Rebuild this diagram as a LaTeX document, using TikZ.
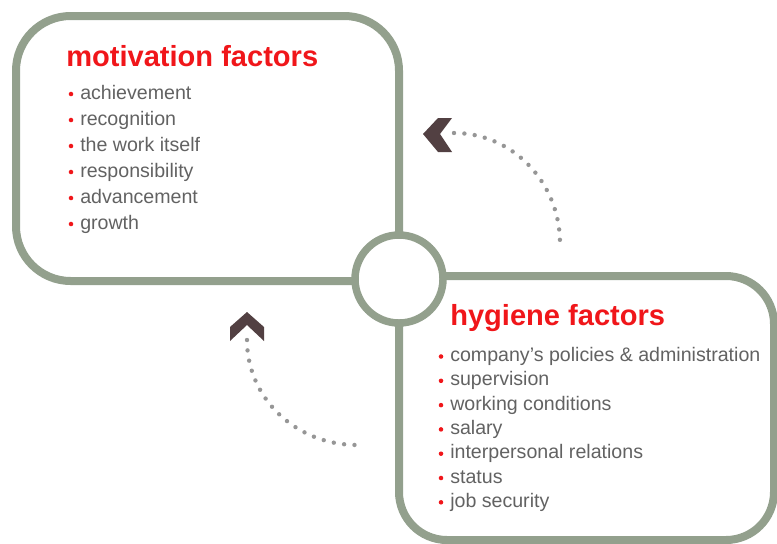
\documentclass[tikz,border=0pt]{standalone}
\usepackage{fontspec}
\setmainfont{Liberation Sans}
\definecolor{frame}{RGB}{147,160,141}
\definecolor{headred}{RGB}{240,22,26}
\definecolor{itemgray}{RGB}{98,98,98}
\definecolor{chev}{RGB}{82,64,66}
\definecolor{dotgray}{RGB}{150,150,150}
\begin{document}
\begin{tikzpicture}[x=0.75pt,y=-0.75pt,
  frameline/.style={draw=frame,line width=6pt},
  heading/.style={anchor=base west,inner sep=0pt,text=headred,font=\fontsize{21.8}{26}\selectfont\bfseries},
  item/.style={anchor=base west,inner sep=0pt,text=itemgray,font=\fontsize{14.7}{18}\selectfont},
  bul/.style={fill=headred,draw=none},
  chevron/.style={fill=chev,draw=none},
  dotarc/.style={draw=dotgray,line width=3.3pt,line cap=round,dash pattern=on 0pt off 7.8pt}
]
\useasboundingbox (0,0) rectangle (777,543);

% frames
\draw[frameline,rounded corners=41pt] (399,281) -- (399,16) -- (16,16) -- (16,281) -- (399,281);
\draw[frameline,rounded corners=36pt] (399,276) -- (774,276) -- (774,540) -- (399,540) -- (399,276);
\node (hub) [circle,draw=frame,fill=white,line width=5.6pt,minimum size=66pt,inner sep=0pt] at (399,279) {};

% headings
\node[heading] (mh) at (66,66) {motivation factors};
\node[heading] (hh) at (450,325) {hygiene factors};

% motivation items
\foreach \t [count=\i from 0] in {achievement,recognition,the work itself,responsibility,advancement,growth}{
  \node[item] (m\i) at (80,99+26*\i) {\t};
  \fill[bul] (71,94+26*\i) circle (1.7pt);
}

% hygiene items
\foreach \t [count=\i from 0] in {company’s policies \& administration,supervision,working conditions,salary,interpersonal relations,status,job security}{
  \node[item] (h\i) at (450,361.5+24.3*\i) {\t};
  \fill[bul] (441,356.5+24.3*\i) circle (1.7pt);
}

% chevrons
\fill[chevron] (423,134) -- (438,118) -- (452,118) -- (440,134) -- (452,152) -- (438,152) -- cycle;
\fill[chevron] (247,312) -- (264,327) -- (264,341) -- (247,325) -- (230,341) -- (230,327) -- cycle;

% dotted curved connectors
\coordinate (ta) at (454,133);
\coordinate (tb) at (560,243);
\coordinate (ba) at (247,340);
\coordinate (bb) at (357,445);
\draw[dotarc] (ta) .. controls (513,133) and (560,183) .. (tb);
\draw[dotarc] (ba) .. controls (247,398) and (296,445) .. (bb);
\end{tikzpicture}
\end{document}
